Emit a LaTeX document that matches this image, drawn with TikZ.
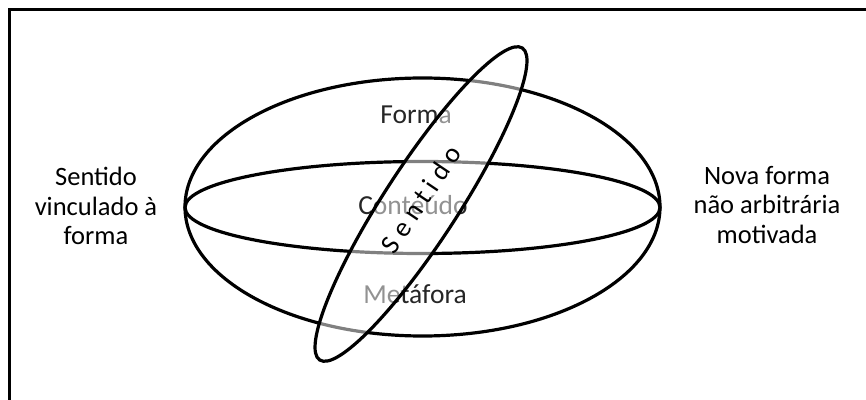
\documentclass[tikz,border=0pt]{standalone}
\usepackage{fontspec}
\setmainfont{Carlito}
\begin{document}
\begin{tikzpicture}[x=1pt,y=1pt,
  ring/.style={line width=3.2pt, draw=black},
  lbl/.style={font=\fontsize{27.5}{30}\selectfont, text=black!85, inner sep=0pt},
  side/.style={font=\fontsize{26.5}{29.5}\selectfont, text=black, align=center, inner sep=0pt}]
\useasboundingbox (0,0) rectangle (866,399);
\clip (0,0) rectangle (866,399);
\draw[line width=2.6pt] (9.5,-10) -- (9.5,389.5) -- (880,389.5);
% outer and equator ellipses
\draw[ring] (422.5,192) ellipse [x radius=237.5, y radius=129];
\draw[ring] (422.5,191.5) ellipse [x radius=237.5, y radius=46];
% labels
\node[lbl, anchor=base] (forma) at (416,275) {Forma};
\node[lbl, anchor=base] (conteudo) at (413,184) {Conteúdo};
\node[lbl, anchor=base] (metafora) at (415,96) {Metáfora};
% tilted ellipse with translucent fill
\fill[white, fill opacity=0.5] (421,195) ellipse [x radius=186, y radius=37, rotate=57];
\draw[ring] (421,195) ellipse [x radius=186, y radius=37, rotate=57];
\node[lbl, text=black, rotate=56] (sentido) at (421,200) {S e n t i d o};
% side texts
\node[side] (left) at (96,193) {Sentido\\vinculado à\\forma};
\node[side] (right) at (767,194) {Nova forma\\não arbitrária\\motivada};
\end{tikzpicture}
\end{document}
